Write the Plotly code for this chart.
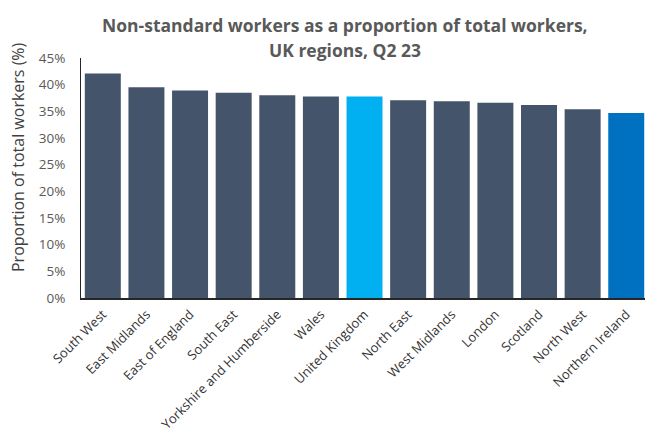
import plotly.graph_objects as go

regions = [
    "South West", "East Midlands", "East of England", "South East",
    "Yorkshire and Humberside", "Wales", "United Kingdom", "North East",
    "West Midlands", "London", "Scotland", "North West", "Northern Ireland",
]
share_pct = [42.1, 39.5, 38.9, 38.5, 38.0, 37.8, 37.8, 37.1, 36.9, 36.6, 36.2, 35.4, 34.7]

title_lines = [
    "Non-standard workers as a proportion of total workers,",
    "UK regions, Q2 23",
]
y_title = "Proportion of total workers (%)"

# UK total and Northern Ireland are highlighted
bar_colors = []
for r in regions:
    if r == "United Kingdom":
        bar_colors.append("#00B0F0")
    elif r == "Northern Ireland":
        bar_colors.append("#0070C0")
    else:
        bar_colors.append("#44546A")

fig = go.Figure(
    go.Bar(
        x=regions,
        y=share_pct,
        marker=dict(color=bar_colors, line=dict(width=0)),
        hovertemplate="%{x}: %{y:.1f}%<extra></extra>",
    )
)

fig.update_layout(
    width=645,
    height=435,
    margin=dict(l=81, r=0, t=58, b=137),
    paper_bgcolor="white",
    plot_bgcolor="white",
    bargap=0.175,
    showlegend=False,
    font=dict(family="Open Sans", color="#404040"),
)

# two-line title, each line placed on its own
for i, line in enumerate(title_lines):
    fig.add_annotation(
        text=line,
        xref="paper", yref="paper",
        x=(345 - 81) / 564, xanchor="center",
        y=1 + (58 - (25 + 25 * i)) / 240, yanchor="middle",
        showarrow=False,
        font=dict(family="Open Sans", size=17.5, color="#595959", weight="bold"),
    )

# vertical axis title, set a little above the plot's middle
fig.add_annotation(
    text=y_title,
    xref="paper", yref="paper",
    x=(18 - 81) / 564, xanchor="center",
    y=(298 - 157) / 240, yanchor="middle",
    textangle=-90,
    showarrow=False,
    font=dict(family="Open Sans", size=16, color="#404040"),
)

fig.update_xaxes(
    range=[-0.5, 12.43],
    tickangle=-45,
    tickfont=dict(family="Open Sans", size=13, color="#333333"),
    showline=True,
    linecolor="#262626",
    linewidth=1.5,
    ticks="outside",
    ticklen=2,
    tickcolor="rgba(0,0,0,0)",
    showgrid=False,
)

fig.update_yaxes(
    range=[0, 45],
    dtick=5,
    ticksuffix="%",
    tickfont=dict(family="Open Sans", size=13.5, color="#595959"),
    showline=True,
    linecolor="#262626",
    linewidth=1,
    ticks="outside",
    ticklen=12,
    tickcolor="rgba(0,0,0,0)",
    showgrid=False,
    zeroline=False,
)

fig.write_html("out.html")
